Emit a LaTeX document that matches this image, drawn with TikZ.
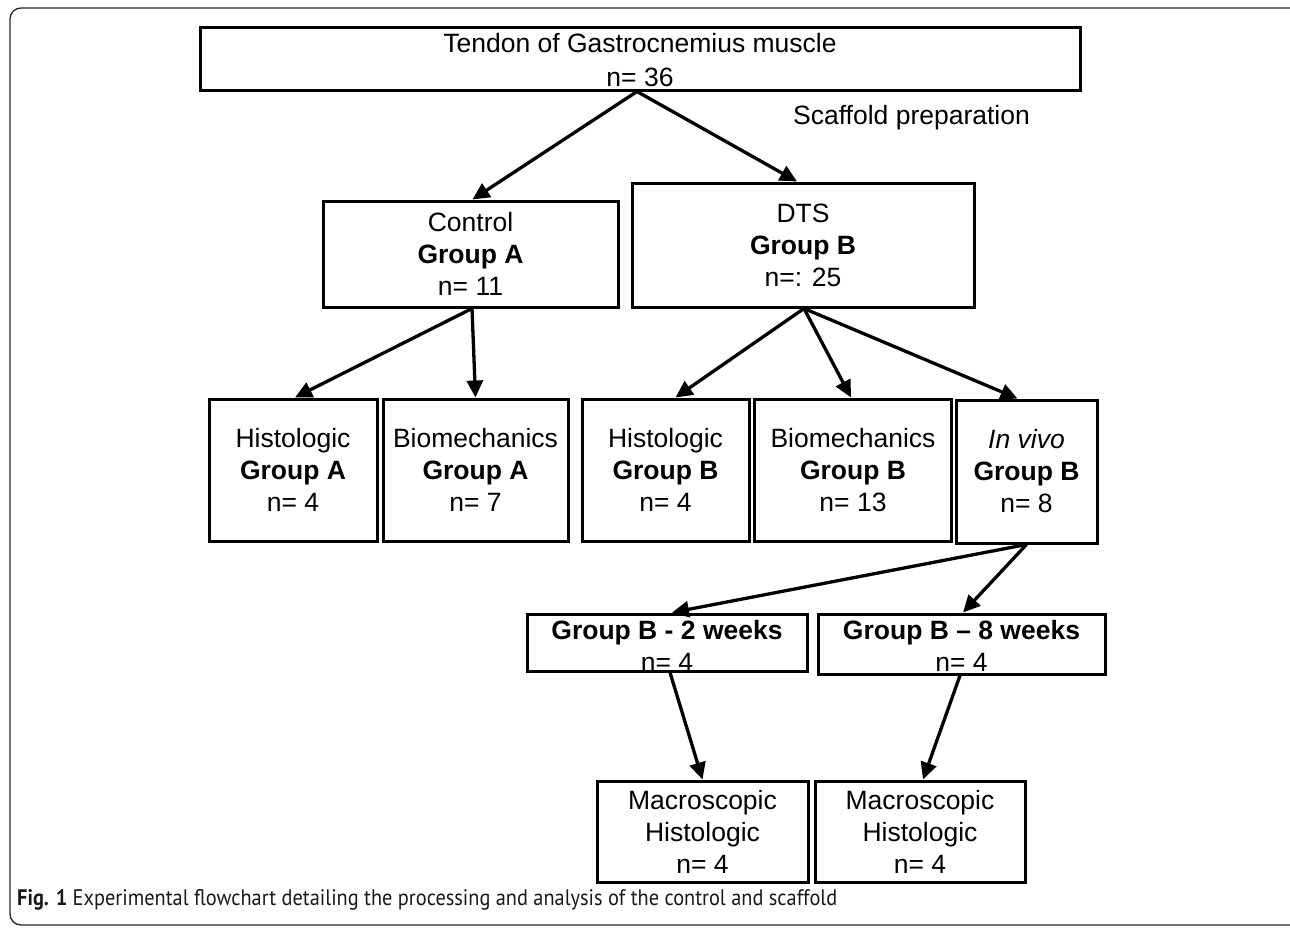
\documentclass[tikz,border=0pt]{standalone}
\usepackage{fontspec}
\usepackage{graphicx}
\setmainfont{Liberation Sans}
\newfontfamily\capfont{PT Sans}
\usetikzlibrary{arrows.meta}
\begin{document}
\begin{tikzpicture}[x=1pt,y=-1pt,
  box/.style={draw,line width=3pt,inner sep=0pt,align=center,
    font=\fontsize{26.5}{32}\selectfont},
  txt/.style={inner sep=0pt,align=center,font=\fontsize{26.5}{32}\selectfont},
  arr/.style={line width=3.3pt,-{Triangle[length=17pt,width=16pt]}}]
\useasboundingbox (0,0) rectangle (1290,927);
\draw[line width=1.3pt,rounded corners=11pt,black!85] (10,8) rectangle (1310,925);

% boxes
\node[box,minimum width=880pt,minimum height=63pt] (top) at (640,58.5) {};
\node[txt] (topt) at (640,60) {Tendon of Gastrocnemius muscle\\[2pt]n= 36};
\node[txt] (scaf) at (911.5,118) {Scaffold preparation};

\node[box,minimum width=295pt,minimum height=106pt] (ctrl) at (470.5,254) {Control\\\textbf{Group A}\\n= 11};
\node[box,minimum width=342pt,minimum height=124pt] (dts) at (803,245) {DTS\\\textbf{Group B}\\n=: 25};

\node[box,minimum width=168pt,minimum height=142pt] (hA) at (293,470) {Histologic\\\textbf{Group A}\\n= 4};
\node[box,minimum width=185pt,minimum height=142pt] (bA) at (475.5,470) {Biomechanics\\\textbf{Group A}\\n= 7};
\node[box,minimum width=167pt,minimum height=142pt] (hB) at (665.5,470) {Histologic\\\textbf{Group B}\\n= 4};
\node[box,minimum width=197pt,minimum height=142pt] (bB) at (853,470) {Biomechanics\\\textbf{Group B}\\n= 13};
\node[box,minimum width=141pt,minimum height=143pt] (iv) at (1026.5,471.5) {\textit{In vivo}\\\textbf{Group B}\\n= 8};

\node[box,minimum width=280pt,minimum height=57pt] (w2) at (667,642.5) {};
\node[txt] (w2t) at (667,646) {\textbf{Group B - 2 weeks}\\n= 4};
\node[box,minimum width=287pt,minimum height=60pt] (w8) at (961.5,644) {};
\node[txt] (w8t) at (961.5,646) {\textbf{Group B -- 8 weeks}\\n= 4};

\node[box,minimum width=211pt,minimum height=101pt] (m1) at (702.5,831.5) {Macroscopic\\Histologic\\n= 4};
\node[box,minimum width=210pt,minimum height=101pt] (m2) at (920,831.5) {Macroscopic\\Histologic\\n= 4};

% connectors
\draw[arr] ([xshift=-3pt]top.south) -- ([xshift=2pt]ctrl.north);
\draw[arr] ([xshift=-3pt]top.south) -- ([xshift=-6pt]dts.north);
\draw[arr] ([xshift=1.5pt]ctrl.south) -- ([xshift=2pt]hA.north);
\draw[arr] ([xshift=1.5pt]ctrl.south) -- (bA.north);
\draw[arr] ([xshift=1pt]dts.south) -- ([xshift=10pt]hB.north);
\draw[arr] ([xshift=1pt]dts.south) -- ([xshift=-2pt]bB.north);
\draw[arr] ([xshift=1pt]dts.south) -- ([xshift=-9pt]iv.north);
\draw[arr] (iv.south) -- ([xshift=5pt]w2.north);
\draw[arr] (iv.south) -- ([xshift=1.5pt]w8.north);
\draw[arr] ([xshift=3pt]w2.south) -- (m1.north);
\draw[arr] ([xshift=-1.5pt]w8.south) -- ([xshift=3pt]m2.north);

% caption
\node[anchor=west,inner sep=0pt,text=black!90] (cap) at (17,900) {\resizebox{820pt}{16pt}{\capfont\textbf{Fig. 1} Experimental flowchart detailing the processing and analysis of the control and scaffold}};
\end{tikzpicture}
\end{document}
